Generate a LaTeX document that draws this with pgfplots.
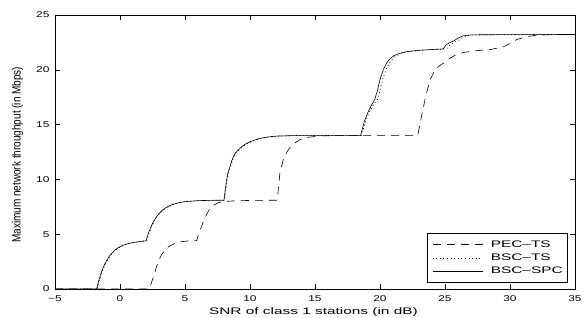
\documentclass[border=0pt]{standalone}
\usepackage{fontspec}
\setmainfont{Liberation Sans}
\newfontfamily\tickfont{Liberation Sans}[FakeStretch=1.42]
\newfontfamily\labfont{Liberation Sans}[FakeStretch=1.62]
\newfontfamily\ylfont{Liberation Sans}
\usepackage{graphicx}
\usepackage{pgfplots}
\pgfplotsset{compat=1.18}

\pgfplotstableread{
x y
-5 0
2.2 0
2.4 0.5
2.6 1.2
2.8 2.0
3.0 2.65
3.2 3.15
3.5 3.6
3.8 3.9
4.2 4.15
4.6 4.3
5.2 4.38
5.9 4.42
6.1 5.2
6.3 5.8
6.5 6.4
6.7 6.9
6.9 7.3
7.2 7.65
7.6 7.9
8.2 8.0
9.0 8.05
10.0 8.08
12.1 8.1
12.3 10.6
12.6 12.0
13.0 12.8
13.3 13.2
13.8 13.6
14.5 13.85
15.5 13.97
17.0 14.0
22.9 14.0
23.2 15.8
23.5 17.5
23.85 19.1
24.2 19.9
24.5 20.3
24.87 20.6
25.3 21.0
25.9 21.4
26.5 21.6
27.5 21.75
28.5 21.85
29.5 22.1
30.0 22.4
30.5 22.75
31.2 23.0
32.0 23.15
33.0 23.2
35 23.22
}\pectsdata

\pgfplotstableread{
x y
-5 0
-1.75 0
-1.55 0.91
-1.35 1.64
-1.15 2.21
-0.95 2.66
-0.75 3.03
-0.55 3.31
-0.35 3.54
-0.15 3.72
0.05 3.86
0.35 4.02
0.65 4.13
1.05 4.23
1.55 4.33
2.05 4.40
2.25 5.14
2.45 5.73
2.65 6.20
2.85 6.58
3.05 6.88
3.35 7.23
3.65 7.47
4.05 7.70
4.55 7.87
5.05 7.97
6.05 8.06
7.05 8.09
8.05 8.10
8.15 9.10
8.25 9.95
8.35 10.6
8.51 11.17
8.65 11.7
8.77 12.07
8.95 12.45
9.3 12.84
9.7 13.2
10.1 13.44
10.9 13.75
11.4 13.86
12.1 13.95
13.6 14.0
18.55 14.0
18.9 15.3
19.2 16.2
19.55 16.9
19.8 17.3
20.0 18.1
20.2 19.1
20.45 20.0
20.7 20.6
21.0 21.05
21.3 21.3
21.7 21.5
22.2 21.65
23.1 21.78
24.1 21.85
25.1 21.9
25.4 22.3
25.7 22.5
26.0 22.65
26.3 22.9
26.7 23.1
27.3 23.18
28.3 23.2
35 23.22
}\bsctsdata

\pgfplotstableread{
x y
-5 0
-1.8 0
-1.6 0.91
-1.4 1.64
-1.2 2.21
-1.0 2.66
-0.8 3.03
-0.6 3.31
-0.4 3.54
-0.2 3.72
0.0 3.86
0.3 4.02
0.6 4.13
1.0 4.23
1.5 4.33
2.0 4.40
2.2 5.14
2.4 5.73
2.6 6.20
2.8 6.58
3.0 6.88
3.3 7.23
3.6 7.47
4.0 7.70
4.5 7.87
5.0 7.97
6.0 8.06
7.0 8.09
8.0 8.10
8.1 9.10
8.2 9.95
8.3 10.6
8.46 11.17
8.6 11.7
8.72 12.07
8.9 12.45
9.23 12.84
9.6 13.2
10.0 13.44
10.77 13.75
11.3 13.86
12.0 13.95
13.5 14.0
18.5 14.0
18.8 15.3
19.1 16.2
19.4 16.9
19.6 17.3
19.8 18.1
20.0 19.1
20.25 20.0
20.5 20.6
20.8 21.05
21.1 21.3
21.5 21.5
22.0 21.65
23.0 21.78
24.0 21.85
24.85 21.9
25.1 22.3
25.4 22.5
25.7 22.65
26.0 22.9
26.4 23.1
27.0 23.18
28.0 23.2
35 23.22
}\bscspcdata

\begin{document}
\begin{tikzpicture}
\path[use as bounding box] (-55pt,-29pt) rectangle (529pt,289pt);
\begin{axis}[
  at={(0pt,0pt)}, anchor=south west,
  scale only axis,
  width=520pt, height=274pt,
  xmin=-5, xmax=35, ymin=0, ymax=25,
  xtick={-5,0,5,10,15,20,25,30,35},
  xticklabels={−5,0,5,10,15,20,25,30,35},
  ytick={0,5,10,15,20,25},
  yticklabels={0,5,10,15,20,25},
  tick align=inside,
  major tick length=5pt,
  tick style={line width=0.5pt, black},
  axis line style={line width=0.6pt},
  tick label style={font=\tickfont\fontsize{8.4}{10}\selectfont},
  xticklabel style={yshift=-3pt},
  yticklabel style={xshift=-2pt},
  xlabel={\labfont\fontsize{9.5}{11}\selectfont SNR of class 1 stations (in dB)},
  ylabel={\scalebox{1}[1.2]{\ylfont\fontsize{10}{12}\selectfont Maximum network throughput (in Mbps)}},
  xlabel style={at={(axis description cs:0.497,-0.093)}, anchor=base},
  ylabel style={at={(axis description cs:-0.072,0.49)}, anchor=center},
  legend cell align=left,
  legend style={at={(0.9865,0.022)}, anchor=south east,
    font=\labfont\fontsize{9.5}{11}\selectfont,
    draw=black, line width=0.6pt, inner xsep=5pt, inner ysep=6pt,
    nodes={inner sep=0pt, text height=8pt, text depth=3pt},
    row sep=2.3pt, column sep=8pt},
  legend image code/.code={\draw[#1, line width=0.6pt] (0pt,0pt) -- (50pt,0pt);},
]
\addplot[black, line width=0.6pt, dash pattern=on 8pt off 6pt] table[x=x,y=y] {\pectsdata};
\addlegendentry{PEC–TS}
\addplot[black, line width=0.8pt, dash pattern=on 0.8pt off 2.8pt] table[x=x,y=y] {\bsctsdata};
\addlegendentry{BSC–TS}
\addplot[black, line width=0.6pt] table[x=x,y=y] {\bscspcdata};
\addlegendentry{BSC–SPC}
\end{axis}
\end{tikzpicture}
\end{document}
